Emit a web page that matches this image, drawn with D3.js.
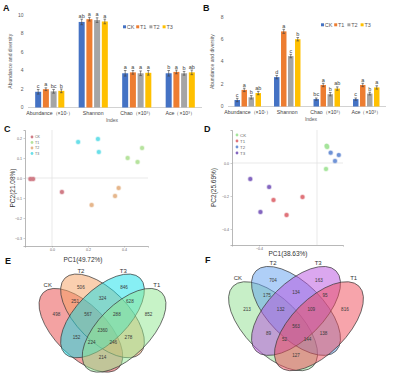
<!DOCTYPE html>
<html lang="en">
	<head>
		<meta charset="utf-8">
		<title>Abundance, PCA and Venn panels</title>
		<script type="text/javascript" src="https://d3js.org/d3.v7.min.js"></script>
		<style type="text/css">
			body {
				margin: 0;
				background: #ffffff;
			}
			text {
				font-family: "Liberation Sans", Arial, sans-serif;
				fill: #404040;
			}
			text.panel {
				font-size: 9px;
				font-weight: 700;
				fill: #111111;
			}
			text.tick {
				font-size: 5px;
				fill: #595959;
			}
			text.cat {
				font-size: 5.2px;
				fill: #404040;
			}
			text.axisTitle {
				font-size: 5px;
				fill: #595959;
			}
			text.letter {
				font-size: 5.5px;
				fill: #404040;
			}
			text.legend {
				font-size: 5.5px;
				fill: #595959;
			}
			text.pcTitle {
				font-size: 6.5px;
				fill: #333333;
			}
			text.pcTick {
				font-size: 3.6px;
				fill: #666666;
			}
			text.pcLegend {
				fill: #666666;
			}
			text.vennNum {
				font-size: 4.6px;
				fill: #3a3a3a;
			}
			text.vennSet {
				font-size: 6px;
				fill: #333333;
			}
		</style>
	</head>
	<body>
		<div id="chart"></div>
		<script type="text/javascript">

			// bar panels A and B
			const groups = ["CK", "T1", "T2", "T3"];
			const barColours = ["#4472c4", "#ed7d31", "#a5a5a5", "#ffc000"];
			const indices = ["Abundance（×10⁷）", "Shannon", "Chao（×10³）", "Ace（×10³）"];

			const meansA = [[1.7, 1.98, 1.75, 1.8], [9.25, 9.55, 9.45, 9.3], [3.7, 3.8, 3.7, 3.75], [3.7, 3.85, 3.7, 3.8]];
			const errorsA = [[0.25, 0.15, 0.2, 0.2], [0.3, 0.2, 0.25, 0.25], [0.3, 0.2, 0.25, 0.25], [0.3, 0.2, 0.2, 0.25]];
			const lettersA = [["c", "a", "bc", "b"], ["ab", "a", "a", "a"], ["a", "a", "a", "a"], ["b", "a", "b", "ab"]];
			const ticksA = [0, 2, 4, 6, 8, 10];

			const meansB = [[0.58, 1.48, 0.82, 1.2], [2.62, 6.7, 4.5, 6.0], [0.66, 1.92, 1.1, 1.6], [0.66, 1.92, 1.15, 1.7]];
			const errorsB = [[0.15, 0.15, 0.15, 0.15], [0.15, 0.18, 0.15, 0.15], [0.1, 0.15, 0.15, 0.15], [0.1, 0.15, 0.12, 0.15]];
			const lettersB = [["c", "a", "b", "ab"], ["d", "a", "c", "b"], ["bc", "a", "b", "ab"], ["c", "a", "b", "a"]];
			const ticksB = [0, 2, 4, 6, 8];

			// PCA panels C and D
			const pcaGroupsC = ["CK", "T1", "T2", "T3"];
			const pcaColoursC = ["#d07c86", "#b6e39e", "#e6b68c", "#6adfe9"];
			const sampleGroupC = ["CK", "CK", "CK", "T1", "T1", "T1", "T2", "T2", "T2", "T3", "T3", "T3"];
			const pc1C = [-0.12, -0.105, 0.055, 0.42, 0.50, 0.475, 0.37, 0.35, 0.22, 0.145, 0.255, 0.26];
			const pc2C = [-0.005, -0.005, -0.07, 0.10, 0.15, 0.08, -0.05, -0.09, -0.135, 0.18, 0.195, 0.13];
			const pcTicksXC = [0, 0.2, 0.4];
			const pcTicksYC = [0.2, 0.1, 0, -0.1, -0.2, -0.3];

			const pcaGroupsD = ["CK", "T1", "T2", "T3"];
			const pcaColoursD = ["#a6e49c", "#e0747a", "#6f93d6", "#8466c0"];
			const sampleGroupD = ["CK", "CK", "CK", "T1", "T1", "T1", "T2", "T2", "T2", "T3", "T3", "T3"];
			const pc1D = [0.07, 0.062, 0.066, -0.30, -0.10, -0.21, 0.094, 0.15, 0.124, -0.46, -0.33, -0.39];
			const pc2D = [0.097, -0.036, 0.104, -0.224, -0.206, -0.315, 0.062, 0.048, 0.012, -0.097, -0.145, -0.297];
			const pcTicksXD = [-0.4];
			const pcTicksYD = [0, -0.2, -0.4];

			// Venn panels E and F (sets in drawing order: left, inner left, inner right, right)
			const vennSets = ["CK", "T2", "T3", "T1"];
			const vennRegions = ["CK", "T2", "T3", "T1", "CK&T2", "CK&T3", "CK&T1", "T2&T3", "T2&T1", "T3&T1",
				"CK&T2&T3", "CK&T2&T1", "CK&T3&T1", "T2&T3&T1", "CK&T2&T3&T1"];
			const vennCountsE = [498, 506, 846, 852, 251, 152, 214, 324, 278, 628, 567, 246, 224, 288, 2360];
			const vennCountsF = [213, 704, 163, 816, 175, 89, 127, 134, 138, 95, 132, 144, 52, 109, 563];
			const vennColoursE = ["#e84545", "#f5a060", "#10dfea", "#8fe88f"];
			const vennColoursF = ["#8fe08f", "#60a0f0", "#b850e0", "#f04a58"];

			makeChart();

			function makeChart() {
				const svg = d3.select('#chart')
							  .append('svg')
							    .attr('width', 400)
							    .attr('height', 373);

				drawBars(svg, meansA, errorsA, lettersA, ticksA, {
					xRange: [28, 202], yRange: [107.5, 15], max: 10,
					legendX: 123, legendY: 27, titleX: 12, indexX: 112
				});
				drawBars(svg, meansB, errorsB, lettersB, ticksB, {
					xRange: [228, 386], yRange: [106.5, 16.8], max: 8,
					legendX: 321, legendY: 25, titleX: 214, indexX: 311
				});

				drawPca(svg, pcaGroupsC, pcaColoursC, sampleGroupC, pc1C, pc2C, pcTicksXC, pcTicksYC, {
					xDomain: [-0.15, 0.533], xRange: [25, 148],
					yDomain: [-0.34, 0.24], yRange: [246, 130],
					pc1: "PC1(49.72%)", pc2: "PC2(21.08%)",
					titleX: 83, titleY: 262, sideX: 15,
					legendX: 32, legendY: 137, legendStep: 5.5, legendFont: 3.6, r: 2
				});
				drawPca(svg, pcaGroupsD, pcaColoursD, sampleGroupD, pc1D, pc2D, pcTicksXD, pcTicksYD, {
					xDomain: [-0.586, 0.179], xRange: [232, 343],
					yDomain: [-0.497, 0.2], yRange: [245, 130],
					pc1: "PC1(38.63%)", pc2: "PC2(25.69%)",
					titleX: 288, titleY: 255.5, sideX: 216,
					legendX: 237, legendY: 135, legendStep: 6, legendFont: 4.4, r: 2
				});

				drawVenn(svg, vennCountsE, vennColoursE, {cx: 102.5, top: 274, s: 144});
				drawVenn(svg, vennCountsF, vennColoursF, {cx: 296, top: 266.4, s: 153});

				// panel letters
				const letters = [["A", 3, 11], ["B", 203, 11], ["C", 4, 132], ["D", 204, 132], ["E", 5, 264], ["F", 205, 263]];
				svg.selectAll('text.panel')
				  .data(letters)
				  .enter()
				  .append('text')
				  .attr('class', 'panel')
				  .attr('x', d => d[1])
				  .attr('y', d => d[2])
				  .text(d => d[0]);
			}

			function drawBars(svg, means, errors, letters, ticks, cfg) {
				const g = svg.append('g');

				let x0 = d3.scaleBand()
						   .domain(indices)
						   .range(cfg.xRange)
						   .paddingInner(0.33)
						   .paddingOuter(0.165);
				let x1 = d3.scaleBand()
						   .domain(groups)
						   .range([0, x0.bandwidth()])
						   .paddingInner(0.22);
				let y = d3.scaleLinear()
						  .domain([0, cfg.max])
						  .range(cfg.yRange);

				// y tick labels only, Excel style
				g.selectAll('text.tick')
				  .data(ticks)
				  .enter()
				  .append('text')
				  .attr('class', 'tick')
				  .attr('x', cfg.xRange[0] - 4.5)
				  .attr('y', d => y(d) + 1.8)
				  .style('text-anchor', 'end')
				  .text(d => d);

				g.append('line')
				  .attr('x1', cfg.xRange[0])
				  .attr('x2', cfg.xRange[1])
				  .attr('y1', y(0))
				  .attr('y2', y(0))
				  .style('stroke', '#bfbfbf')
				  .style('stroke-width', 0.7);

				let cells = [];
				indices.forEach((ind, i) => {
					groups.forEach((grp, j) => {
						cells.push({ind: ind, grp: grp, j: j, v: means[i][j], e: errors[i][j], l: letters[i][j]});
					});
				});

				g.selectAll('rect.bar')
				  .data(cells)
				  .enter()
				  .append('rect')
				  .attr('class', 'bar')
				  .attr('x', d => x0(d.ind) + x1(d.grp))
				  .attr('width', x1.bandwidth())
				  .attr('y', d => y(d.v))
				  .attr('height', d => y(0) - y(d.v))
				  .style('fill', d => barColours[d.j]);

				let err = g.selectAll('g.err')
						   .data(cells)
						   .enter()
						   .append('g')
						   .attr('class', 'err')
						   .attr('transform', d => `translate(${x0(d.ind) + x1(d.grp) + x1.bandwidth() / 2},0)`);
				err.append('line')
				  .attr('y1', d => y(d.v - d.e))
				  .attr('y2', d => y(d.v + d.e))
				  .style('stroke', '#404040')
				  .style('stroke-width', 0.6);
				err.append('line')
				  .attr('x1', -1.3)
				  .attr('x2', 1.3)
				  .attr('y1', d => y(d.v + d.e))
				  .attr('y2', d => y(d.v + d.e))
				  .style('stroke', '#404040')
				  .style('stroke-width', 0.6);
				err.append('line')
				  .attr('x1', -1.3)
				  .attr('x2', 1.3)
				  .attr('y1', d => y(d.v - d.e))
				  .attr('y2', d => y(d.v - d.e))
				  .style('stroke', '#404040')
				  .style('stroke-width', 0.6);
				err.append('text')
				  .attr('class', 'letter')
				  .attr('y', d => y(d.v + d.e) - 1.5)
				  .style('text-anchor', 'middle')
				  .text(d => d.l);

				g.selectAll('text.cat')
				  .data(indices)
				  .enter()
				  .append('text')
				  .attr('class', 'cat')
				  .attr('x', d => x0(d) + x0.bandwidth() / 2)
				  .attr('y', y(0) + 7)
				  .style('text-anchor', 'middle')
				  .text(d => d);

				g.append('text')
				  .attr('class', 'axisTitle')
				  .attr('x', cfg.indexX)
				  .attr('y', y(0) + 14)
				  .style('text-anchor', 'middle')
				  .text('Index');

				g.append('text')
				  .attr('class', 'axisTitle')
				  .attr('transform', `translate(${cfg.titleX},${(cfg.yRange[0] + cfg.yRange[1]) / 2}) rotate(-90)`)
				  .style('text-anchor', 'middle')
				  .text('Abundance and diversity');

				// legend
				let leg = g.selectAll('g.legend')
						   .data(groups)
						   .enter()
						   .append('g')
						   .attr('class', 'legend')
						   .attr('transform', (d, i) => `translate(${cfg.legendX + i * 13.2},${cfg.legendY})`);
				leg.append('rect')
				  .attr('x', 0)
				  .attr('y', -1.7)
				  .attr('width', 3)
				  .attr('height', 3)
				  .style('fill', (d, i) => barColours[i]);
				leg.append('text')
				  .attr('class', 'legend')
				  .attr('x', 3.8)
				  .attr('y', 1.9)
				  .text(d => d);
			}

			function drawPca(svg, names, colours, sampleGroup, pc1, pc2, ticksX, ticksY, cfg) {
				const g = svg.append('g');
				let colour = d3.scaleOrdinal().domain(names).range(colours);

				let x = d3.scaleLinear().domain(cfg.xDomain).range(cfg.xRange);
				let y = d3.scaleLinear().domain(cfg.yDomain).range(cfg.yRange);

				// zero lines
				g.append('line')
				  .attr('x1', x(0)).attr('x2', x(0))
				  .attr('y1', cfg.yRange[0]).attr('y2', cfg.yRange[1])
				  .style('stroke', '#e3e3e3')
				  .style('stroke-width', 0.8);
				g.append('line')
				  .attr('x1', cfg.xRange[0]).attr('x2', cfg.xRange[1])
				  .attr('y1', y(0)).attr('y2', y(0))
				  .style('stroke', '#e3e3e3')
				  .style('stroke-width', 0.8);

				let xAxis = d3.axisBottom(x)
							  .tickValues(ticksX)
							  .tickSize(1.5)
							  .tickPadding(1.2)
							  .tickFormat(d3.format('.1f'));
				let yAxis = d3.axisLeft(y)
							  .tickValues(ticksY)
							  .tickSize(1.5)
							  .tickPadding(1.5)
							  .tickFormat(d3.format('.1f'));

				g.append('g')
				  .attr('transform', `translate(0,${cfg.yRange[0]})`)
				  .call(xAxis)
				  .call(a => a.select('.domain').style('stroke', '#9a9a9a').style('stroke-width', 0.7))
				  .call(a => a.selectAll('.tick line').style('stroke', '#9a9a9a').style('stroke-width', 0.5))
				  .call(a => a.selectAll('.tick text').attr('class', 'pcTick').attr('font-size', null).attr('font-family', null));
				g.append('g')
				  .attr('transform', `translate(${cfg.xRange[0]},0)`)
				  .call(yAxis)
				  .call(a => a.select('.domain').style('stroke', '#9a9a9a').style('stroke-width', 0.7))
				  .call(a => a.selectAll('.tick line').style('stroke', '#9a9a9a').style('stroke-width', 0.5))
				  .call(a => a.selectAll('.tick text').attr('class', 'pcTick').attr('font-size', null).attr('font-family', null));

				g.selectAll('circle.pt')
				  .data(pc1.map((v, i) => ({x: v, y: pc2[i], grp: sampleGroup[i]})))
				  .enter()
				  .append('circle')
				  .attr('class', 'pt')
				  .attr('cx', d => x(d.x))
				  .attr('cy', d => y(d.y))
				  .attr('r', cfg.r)
				  .style('fill', d => colour(d.grp))
				  .style('stroke', d => colour(d.grp))
				  .style('stroke-opacity', 0.35)
				  .style('stroke-width', 1.4);

				let leg = g.selectAll('g.pcLeg')
						   .data(names)
						   .enter()
						   .append('g')
						   .attr('class', 'pcLeg')
						   .attr('transform', (d, i) => `translate(${cfg.legendX},${cfg.legendY + i * cfg.legendStep})`);
				leg.append('circle')
				  .attr('r', 1.4)
				  .style('fill', d => colour(d));
				leg.append('text')
				  .attr('class', 'pcLegend')
				  .attr('x', 3)
				  .attr('y', cfg.legendFont * 0.36)
				  .style('font-size', cfg.legendFont + 'px')
				  .text(d => d);

				g.append('text')
				  .attr('class', 'pcTitle')
				  .attr('x', cfg.titleX)
				  .attr('y', cfg.titleY)
				  .style('text-anchor', 'middle')
				  .text(cfg.pc1);
				g.append('text')
				  .attr('class', 'pcTitle')
				  .attr('transform', `translate(${cfg.sideX},${(cfg.yRange[0] + cfg.yRange[1]) / 2}) rotate(-90)`)
				  .style('text-anchor', 'middle')
				  .text(cfg.pc2);
			}

			function drawVenn(svg, counts, colours, cfg) {
				const g = svg.append('g');
				// four-ellipse layout in unit coordinates (y pointing down)
				const shapes = [
					{cx: 0.35, cy: 0.53, rot: 45},
					{cx: 0.50, cy: 0.43, rot: 45},
					{cx: 0.50, cy: 0.43, rot: -45},
					{cx: 0.65, cy: 0.53, rot: -45}
				];
				const ra = 0.37, rb = 0.18;
				const setLabelPos = [[0.12, 0.213], [0.35, 0.12], [0.645, 0.12], [0.877, 0.213]];
				// text spot of each region, same order as vennRegions
				const regionPos = [
					[0.18, 0.42], [0.35, 0.23], [0.65, 0.23], [0.82, 0.42],
					[0.31, 0.33], [0.32, 0.58], [0.5, 0.72], [0.5, 0.31], [0.68, 0.58], [0.69, 0.33],
					[0.40, 0.42], [0.575, 0.617], [0.425, 0.617], [0.60, 0.42], [0.5, 0.53]
				];

				let x = d3.scaleLinear().domain([0, 1]).range([cfg.cx - cfg.s / 2, cfg.cx + cfg.s / 2]);
				let y = d3.scaleLinear().domain([0.139, 1.139]).range([cfg.top, cfg.top + cfg.s]);

				g.selectAll('ellipse')
				  .data(shapes)
				  .enter()
				  .append('ellipse')
				  .attr('transform', d => `translate(${x(d.cx)},${y(d.cy)}) rotate(${d.rot})`)
				  .attr('rx', x(ra) - x(0))
				  .attr('ry', x(rb) - x(0))
				  .style('fill', (d, i) => colours[i])
				  .style('fill-opacity', 0.5)
				  .style('stroke', '#3c3c3c')
				  .style('stroke-width', 0.7);

				g.selectAll('text.vennNum')
				  .data(vennRegions.map((r, i) => ({r: r, n: counts[i], p: regionPos[i]})))
				  .enter()
				  .append('text')
				  .attr('class', 'vennNum')
				  .attr('x', d => x(d.p[0]))
				  .attr('y', d => y(d.p[1]) + 1.6)
				  .style('text-anchor', 'middle')
				  .text(d => d.n);

				g.selectAll('text.vennSet')
				  .data(vennSets)
				  .enter()
				  .append('text')
				  .attr('class', 'vennSet')
				  .attr('x', (d, i) => x(setLabelPos[i][0]))
				  .attr('y', (d, i) => y(setLabelPos[i][1]) + 2)
				  .style('text-anchor', 'middle')
				  .text(d => d);
			}
		</script>
	</body>
</html>
